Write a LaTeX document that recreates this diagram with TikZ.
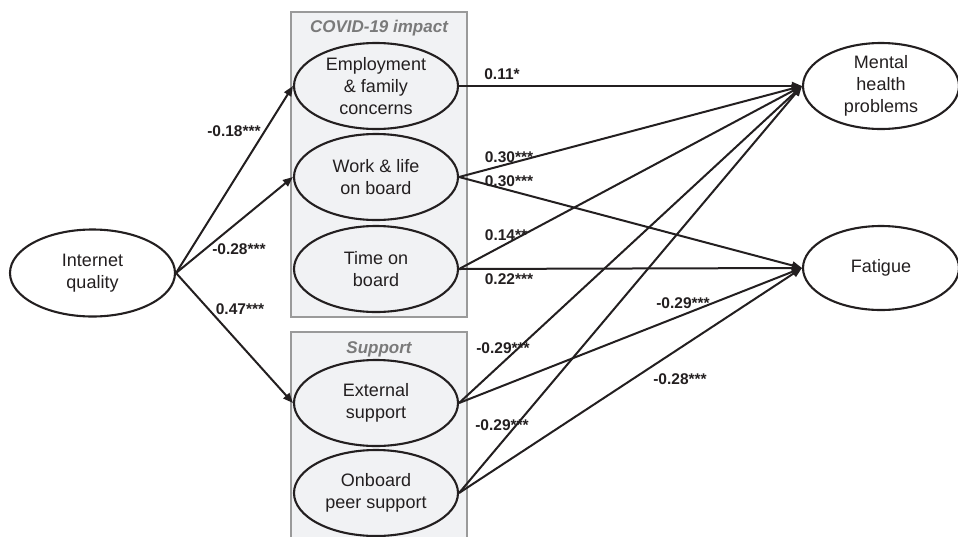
\documentclass[tikz,border=0pt]{standalone}
\usepackage{fontspec}
\setmainfont{Liberation Sans}
\usetikzlibrary{shapes.geometric,arrows.meta}
\definecolor{ink}{HTML}{231F20}
\definecolor{boxfill}{HTML}{F1F2F4}
\definecolor{boxline}{HTML}{9A9A9A}
\definecolor{titlegray}{HTML}{7A7A7A}
\tikzset{
  oval/.style={ellipse, draw=ink, line width=2.1pt, fill=boxfill, minimum width=164pt, minimum height=86pt,
    inner sep=0pt, align=center, text=ink, font=\fontsize{18}{22}\selectfont},
  groupbox/.style={draw=boxline, line width=2.2pt, fill=boxfill},
  grouptitle/.style={text=titlegray, font=\fontsize{17}{20}\selectfont\bfseries\itshape},
  path/.style={draw=ink, line width=2pt, -{Triangle[length=10pt,width=8pt]}},
  coef/.style={text=ink, font=\fontsize{15.5}{18}\selectfont\bfseries, inner sep=0pt}
}
\begin{document}
\begin{tikzpicture}[x=1pt,y=-1pt]
\useasboundingbox (0,0) rectangle (958,536);
\clip (0,0) rectangle (958,536);

% grouping boxes
\draw[groupbox] (291,12) rectangle (467,317);
\node[grouptitle] (tcovid) at (379,28) {COVID-19 impact};
\draw[groupbox] (291,332) rectangle (467,560);
\node[grouptitle] (tsupport) at (379,349) {Support};

% constructs
\node[oval, fill=white, minimum width=165pt, minimum height=87pt] (iq) at (92.5,273) {Internet\\quality};
\node[oval] (emp) at (376,86) {Employment\\\& family\\concerns};
\node[oval] (work) at (376,177) {Work \& life\\on board};
\node[oval] (time) at (376,269) {Time on\\board};
\node[oval] (ext) at (376,403) {External\\support};
\node[oval] (peer) at (376,493) {Onboard\\peer support};
\node[oval, fill=white, minimum width=156pt] (mh) at (881,86) {Mental\\health\\problems};
\node[oval, fill=white, minimum width=156pt, minimum height=84pt] (fat) at (881,268) {Fatigue};

% paths from internet quality
\draw[path] (iq.east) -- (emp.west);
\draw[path] (iq.east) -- (work.west);
\draw[path] (iq.east) -- (ext.west);

% paths to mental health problems
\draw[path] (emp.east) -- (mh.west);
\draw[path] (work.east) -- (mh.west);
\draw[path] (time.east) -- (mh.west);
\draw[path] (ext.east) -- (mh.west);
\draw[path] (peer.east) -- (mh.west);

% paths to fatigue
\draw[path] (work.east) -- (fat.west);
\draw[path] (time.east) -- (fat.west);
\draw[path] (ext.east) -- (fat.west);
\draw[path] (peer.east) -- (fat.west);

% coefficients
\node[coef] (c1) at (234,131) {-0.18***};
\node[coef] (c2) at (239,249) {-0.28***};
\node[coef] (c3) at (240,309) {0.47***};
\node[coef] (c4) at (502,74) {0.11*};
\node[coef] (c5) at (509,157) {0.30***};
\node[coef] (c6) at (509,181) {0.30***};
\node[coef] (c7) at (506,235) {0.14**};
\node[coef] (c8) at (509,279) {0.22***};
\node[coef] (c9) at (683,303) {-0.29***};
\node[coef] (c10) at (503,348) {-0.29***};
\node[coef] (c11) at (680,379) {-0.28***};
\node[coef] (c12) at (502,425) {-0.29***};
\end{tikzpicture}
\end{document}
